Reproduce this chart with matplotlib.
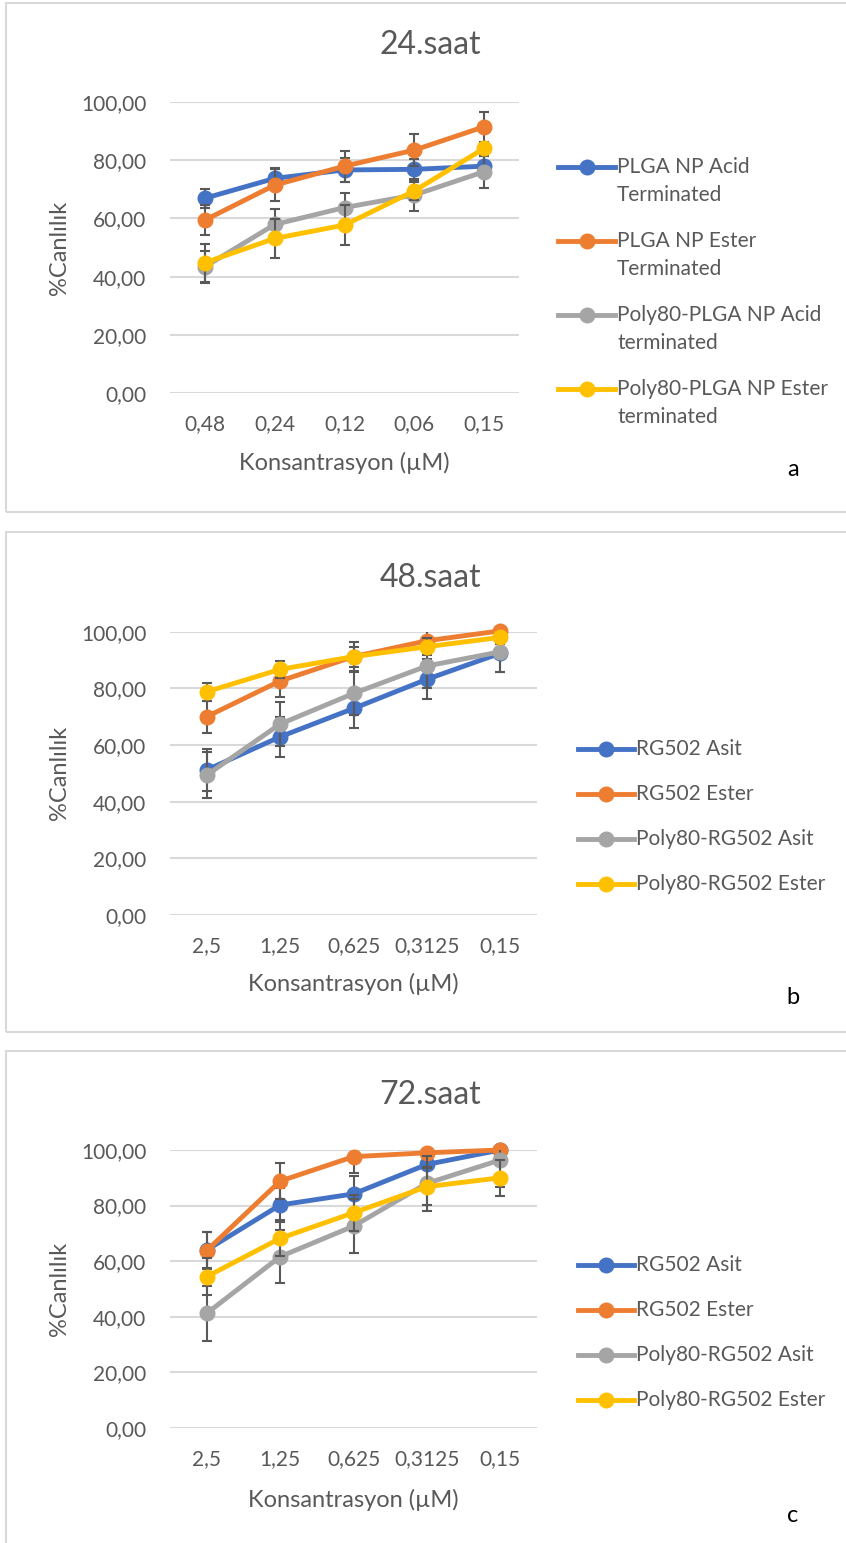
import numpy as np
import matplotlib.pyplot as plt
from matplotlib.lines import Line2D
from matplotlib.patches import Rectangle

plt.rcParams['font.family'] = ['Lato', 'DejaVu Sans']

W, H = 846, 1543
colors = ["#4472C4", "#ED7D31", "#A5A5A5", "#FFC000"]
txt = "#595959"

# --- 24 saat ---
conc_24 = ["0,48", "0,24", "0,12", "0,06", "0,15"]
names_24 = ["PLGA NP Acid\nTerminated", "PLGA NP Ester\nTerminated",
            "Poly80-PLGA NP Acid\nterminated", "Poly80-PLGA NP Ester\nterminated"]
acid_24 = [66.9, 73.7, 76.6, 76.8, 77.9]
ester_24 = [59.4, 71.4, 77.9, 83.4, 91.4]
p80acid_24 = [43.4, 57.9, 63.7, 68.0, 76.0]
p80ester_24 = [44.8, 53.1, 57.7, 69.4, 84.0]
err_acid_24 = [3.3, 3.4, 4.0, 3.6, 3.5]
err_ester_24 = [5.2, 5.4, 5.3, 5.4, 5.2]
err_p80acid_24 = [5.5, 5.4, 5.0, 5.5, 5.5]
err_p80ester_24 = [6.5, 6.6, 7.0, 3.0, 2.0]

# --- 48 saat ---
conc_48 = ["2,5", "1,25", "0,625", "0,3125", "0,15"]
names_rg = ["RG502 Asit", "RG502 Ester", "Poly80-RG502 Asit", "Poly80-RG502 Ester"]
acid_48 = [51.2, 62.9, 72.9, 83.2, 92.4]
ester_48 = [70.0, 82.6, 91.2, 96.8, 100.3]
p80acid_48 = [49.4, 67.4, 78.2, 87.9, 92.9]
p80ester_48 = [78.8, 86.7, 91.2, 94.7, 98.0]
err_acid_48 = [7.3, 7.0, 7.0, 7.0, 6.7]
err_ester_48 = [5.7, 5.5, 5.0, 4.0, 4.0]
err_p80acid_48 = [8.0, 7.9, 7.6, 7.9, 7.0]
err_p80ester_48 = [3.2, 3.1, 3.5, 3.0, 2.5]

# --- 72 saat ---
conc_72 = ["2,5", "1,25", "0,625", "0,3125", "0,15"]
acid_72 = [64.0, 80.2, 84.2, 94.8, 100.0]
ester_72 = [63.8, 88.8, 97.6, 99.0, 100.0]
p80acid_72 = [41.2, 61.6, 72.6, 88.0, 96.4]
p80ester_72 = [54.4, 68.2, 77.4, 86.8, 90.0]
err_acid_72 = [6.6, 6.0, 6.6, 6.0, 5.0]
err_ester_72 = [6.6, 6.6, 6.0, 5.0, 4.0]
err_p80acid_72 = [9.8, 9.6, 9.6, 10.0, 9.8]
err_p80ester_72 = [6.7, 6.5, 6.5, 6.6, 6.5]

fig = plt.figure(figsize=(W / 100, H / 100), dpi=100)


def fx(x):
    return x / W


def fy(y):
    return 1 - y / H


def panel(box, axbox, title, title_y, cats, series, errs, names, xlab_y,
          letter, leg_x, leg_y, line_gap):
    bx0, by0, bx1, by1 = box
    fig.patches.append(Rectangle((fx(bx0), fy(by1)), fx(bx1 - bx0), (by1 - by0) / H,
                                 transform=fig.transFigure, fill=False,
                                 edgecolor="#D9D9D9", lw=1.5))
    l, t, r, b = axbox
    ax = fig.add_axes([fx(l), fy(b), fx(r - l), (b - t) / H])
    x = np.arange(len(cats))
    for vals, e, c in zip(series, errs, colors):
        ax.errorbar(x, vals, yerr=e, fmt="none", ecolor="#595959", elinewidth=1.5,
                    capsize=3.8, capthick=1.5, zorder=3)
        ax.plot(x, vals, color=c, lw=3.5, marker="o", ms=10.5, zorder=3, clip_on=False)
    ax.set_xlim(-0.5, len(cats) - 0.5)
    ax.set_ylim(0, 100)
    ax.set_yticks(np.arange(0, 101, 20))
    ax.set_yticklabels([f"{v:.2f}".replace(".", ",") for v in np.arange(0, 101, 20)])
    ax.set_xticks(x)
    ax.set_xticklabels(cats)
    ax.grid(axis="y", color="#D9D9D9", lw=1.5, zorder=0)
    ax.set_axisbelow(True)
    for s in ax.spines.values():
        s.set_visible(False)
    ax.tick_params(length=0, labelsize=15, colors=txt)
    ax.tick_params(axis="y", pad=17)
    ax.tick_params(axis="x", pad=15)
    ax.set_ylabel("%Canlılık", fontsize=17, color=txt)
    ax.yaxis.set_label_coords((70 - l) / (r - l), 0.5)
    fig.text(fx(430), fy(title_y), title, fontsize=23, color=txt, ha="center", va="center")
    fig.text(fx((l + r) / 2), fy(xlab_y), "Konsantrasyon (µM)", fontsize=17, color=txt,
             ha="center", va="center")
    fig.text(fx(793), fy(letter[1]), letter[0], fontsize=17, color="black",
             ha="center", va="center")
    x0, x1 = leg_x
    for i, (nm, c) in enumerate(zip(names, colors)):
        y = leg_y[i]
        fig.lines.append(Line2D([fx(x0), fx(x1)], [fy(y), fy(y)], transform=fig.transFigure,
                                color=c, lw=3.5))
        fig.lines.append(Line2D([fx((x0 + x1) / 2)], [fy(y)], transform=fig.transFigure,
                                color=c, marker="o", ms=10.5))
        for k, part in enumerate(nm.split("\n")):
            fig.text(fx(x1 + 2), fy(y + k * line_gap), part, fontsize=15, color=txt,
                     ha="left", va="center")
    return ax


panel((6, 3, 852, 512), (170, 101.7, 519, 393.3), "24.saat", 45, conc_24,
      [acid_24, ester_24, p80acid_24, p80ester_24],
      [err_acid_24, err_ester_24, err_p80acid_24, err_p80ester_24],
      names_24, 463, ("a", 470), (558, 615), [167, 241, 315, 389], 28)

panel((6, 532, 852, 1032), (170, 631.7, 537, 915), "48.saat", 578, conc_48,
      [acid_48, ester_48, p80acid_48, p80ester_48],
      [err_acid_48, err_ester_48, err_p80acid_48, err_p80ester_48],
      names_rg, 984, ("b", 998), (578, 634), [749, 794, 839, 884], 0)

panel((6, 1051, 852, 1560), (170, 1150, 537, 1427.8), "72.saat", 1095, conc_72,
      [acid_72, ester_72, p80acid_72, p80ester_72],
      [err_acid_72, err_ester_72, err_p80acid_72, err_p80ester_72],
      names_rg, 1500, ("c", 1515), (578, 634), [1265, 1310, 1355, 1400], 0)

fig.savefig("out.png", dpi=100)
